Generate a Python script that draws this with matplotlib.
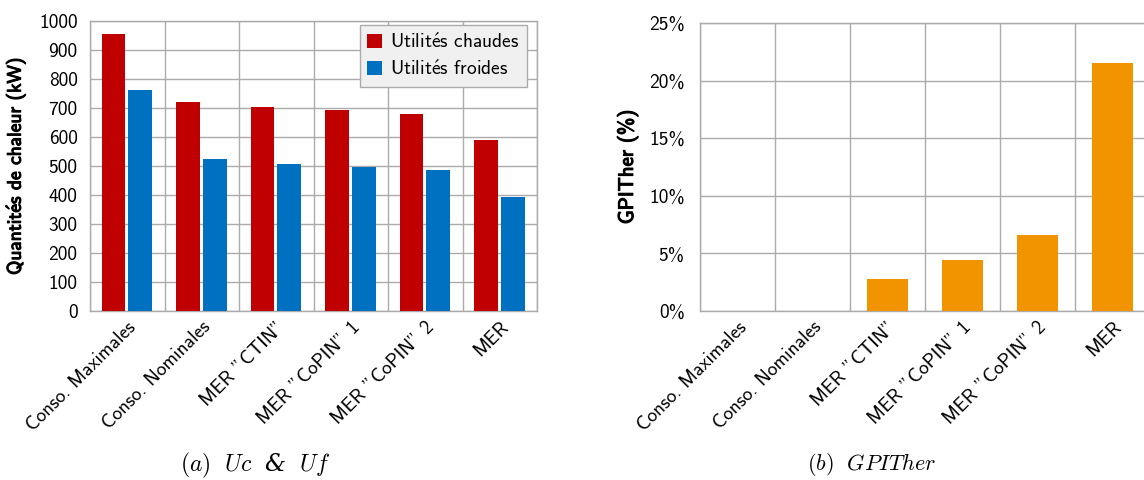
import matplotlib
matplotlib.use("Agg")
import matplotlib.pyplot as plt
import matplotlib.patheffects as pe
import numpy as np
from matplotlib.ticker import FuncFormatter

categories = ["Conso. Maximales", "Conso. Nominales", 'MER "CTIN"',
              'MER "CoPIN" 1', 'MER "CoPIN" 2', "MER"]
uc_values = [955, 719, 702, 692, 679, 588]
uf_values = [761, 524, 508, 498, 485, 394]
gpither_values = [0, 0, 2.8, 4.4, 6.6, 21.5]
left_yticks = [0, 100, 200, 300, 400, 500, 600, 700, 800, 900, 1000]
right_yticks = [0, 5, 10, 15, 20, 25]

RED = "#C00000"
BLUE = "#0070C0"
ORANGE = "#F29400"
GRID = "#ababab"

plt.rcParams['font.family'] = ['cmss10', 'DejaVu Sans']
plt.rcParams['mathtext.fontset'] = 'cm'
plt.rcParams['axes.unicode_minus'] = False

E_ACUTE = r"$\mathsf{\acute{e}}$"

fig = plt.figure(figsize=(11.44, 4.8), dpi=100)
ax1 = fig.add_axes([90/1144, 1-311/480, 447/1144, 290/480])
ax2 = fig.add_axes([700/1144, 1-311/480, 450/1144, 288/480])

x = np.arange(len(categories))
bw = 0.32
ax1.bar(x - 0.185, uc_values, bw, color=RED, label="Utilit" + E_ACUTE + "s chaudes", zorder=3)
ax1.bar(x + 0.175, uf_values, bw, color=BLUE, label="Utilit" + E_ACUTE + "s froides", zorder=3)
ax2.bar(x, gpither_values, 0.55, color=ORANGE, zorder=3)

fs = 14
for ax, ticks, pad in ((ax1, left_yticks, 9), (ax2, right_yticks, 11)):
    ax.set_xlim(-0.5, len(categories) - 0.5)
    ax.set_xticks(x)
    ax.set_xticks(np.arange(len(categories) + 1) - 0.5, minor=True)
    ax.set_xticklabels(categories, rotation=45, ha='right', rotation_mode='anchor', fontsize=fs)
    ax.set_yticks(ticks)
    ax.set_ylim(ticks[0], ticks[-1])
    ax.grid(True, which='minor', axis='x', color=GRID, lw=1.0, zorder=0)
    ax.grid(True, which='major', axis='y', color=GRID, lw=1.0, zorder=0)
    ax.tick_params(which='both', length=0, labelsize=fs)
    ax.tick_params(axis='y', pad=pad)
    ax.tick_params(axis='x', pad=5)
    for s in ax.spines.values():
        s.set_color(GRID)
        s.set_linewidth(1.0)

ax2.yaxis.set_major_formatter(FuncFormatter(lambda v, p: f"{int(v)}%"))

bold = [pe.withStroke(linewidth=0.8, foreground='black')]
ax1.set_ylabel("Quantit" + E_ACUTE + "s de chaleur (kW)", fontsize=fs, labelpad=8, path_effects=bold)
ax2.set_ylabel("GPITher (%)", fontsize=15, labelpad=8, path_effects=bold)

leg = ax1.legend(loc='upper right', fontsize=fs, frameon=True, fancybox=False,
                 handlelength=0.75, handleheight=0.75, handletextpad=0.4,
                 borderpad=0.4, labelspacing=0.4, borderaxespad=0,
                 bbox_to_anchor=(1 - 10/447, 1 - 4/290))
leg.get_frame().set_facecolor('#f0f0f0')
leg.get_frame().set_edgecolor(GRID)
leg.get_frame().set_alpha(1)

fig.text(255/1144, 1-465/480, r"$(a)\ \ Uc\ \ $&$\ \ Uf$", ha='center', va='center',
         fontsize=17, family='DejaVu Serif', style='italic')
fig.text(872/1144, 1-465/480, r"$(b)\ \ GPITher$", ha='center', va='center', fontsize=16)

fig.savefig("out.png", dpi=100)
